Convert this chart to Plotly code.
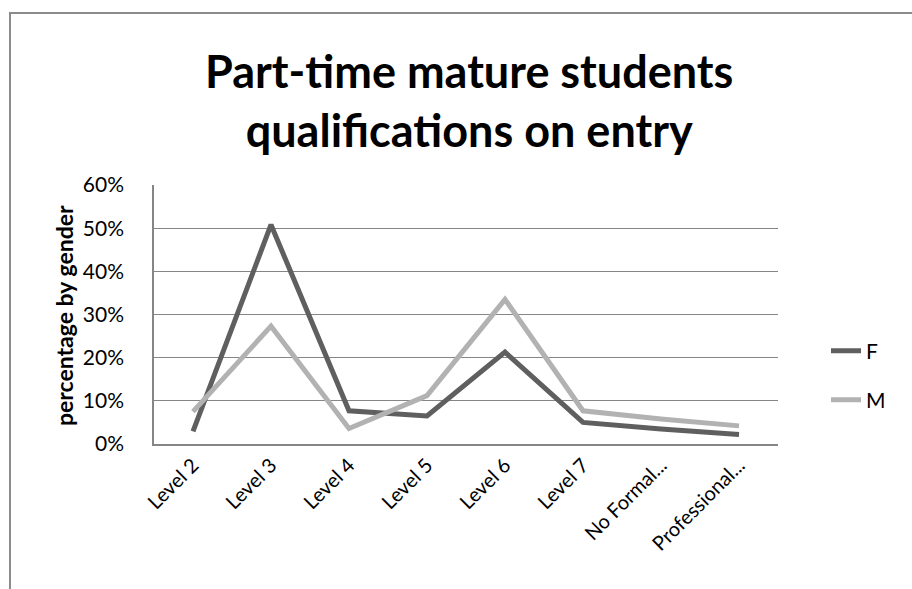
import plotly.graph_objects as go

categories = ["Level 2", "Level 3", "Level 4", "Level 5", "Level 6", "Level 7",
              "No Formal...", "Professional..."]
female = [0.029, 0.508, 0.077, 0.065, 0.213, 0.050, 0.035, 0.022]
male = [0.075, 0.273, 0.036, 0.112, 0.335, 0.077, 0.058, 0.042]
series_names = ["F", "M"]
y_ticks = [0, 0.1, 0.2, 0.3, 0.4, 0.5, 0.6]

W, H = 912, 589
L, R, T, B = 154, 778, 185, 444
pw, ph = R - L, B - T

def px(x):
    return (x - L) / pw

def py(y):
    return (B - y) / ph

FONT = "Lato, 'Open Sans', sans-serif"

fig = go.Figure()
fig.add_trace(go.Scatter(x=categories, y=female, name=series_names[0], mode="lines",
                         line=dict(color="#5f5f5f", width=5), legend="legend"))
fig.add_trace(go.Scatter(x=categories, y=male, name=series_names[1], mode="lines",
                         line=dict(color="#b2b2b2", width=5), legend="legend2"))

fig.update_layout(
    width=W, height=H,
    margin=dict(l=L, r=W - R, t=T, b=H - B, pad=0),
    paper_bgcolor="white", plot_bgcolor="white",
    font=dict(family=FONT, color="#000000"),
    xaxis=dict(type="category", showgrid=False, showline=True, linecolor="#868686",
               linewidth=1.5, ticks="", tickangle=-45, tickfont=dict(size=20),
               range=[-0.5, len(categories) - 0.5]),
    yaxis=dict(range=[0, 0.6], tickvals=y_ticks, tickformat=".0%", showgrid=True,
               gridcolor="#868686", gridwidth=1.3, showline=True, linecolor="#868686",
               linewidth=1.5, ticks="", tickfont=dict(size=21), zeroline=False,
               ticklabelstandoff=24),
    legend=dict(x=px(826), y=py(351), xanchor="left", yanchor="middle",
                font=dict(size=21), bgcolor="rgba(0,0,0,0)"),
    legend2=dict(x=px(826), y=py(400), xanchor="left", yanchor="middle",
                 font=dict(size=21), bgcolor="rgba(0,0,0,0)"),
    showlegend=True,
)

fig.add_annotation(text="<b>Part-time mature students<br>qualifications on entry</b>",
                   xref="paper", yref="paper", x=px(469), y=py(100), xanchor="center",
                   yanchor="middle", showarrow=False, font=dict(size=45, family=FONT),
                   align="center")
fig.add_annotation(text="<b>percentage by gender</b>", xref="paper", yref="paper",
                   x=px(64), y=py(316), textangle=-90, showarrow=False,
                   xanchor="center", yanchor="middle", font=dict(size=23, family=FONT))

fig.add_shape(type="rect", xref="paper", yref="paper",
              x0=px(10), y0=py(600), x1=px(930), y1=py(13),
              line=dict(color="#8c8c8c", width=2), layer="below")

fig.write_html("out.html", config={"displayModeBar": False},
               post_script="document.body.style.margin='0';")
